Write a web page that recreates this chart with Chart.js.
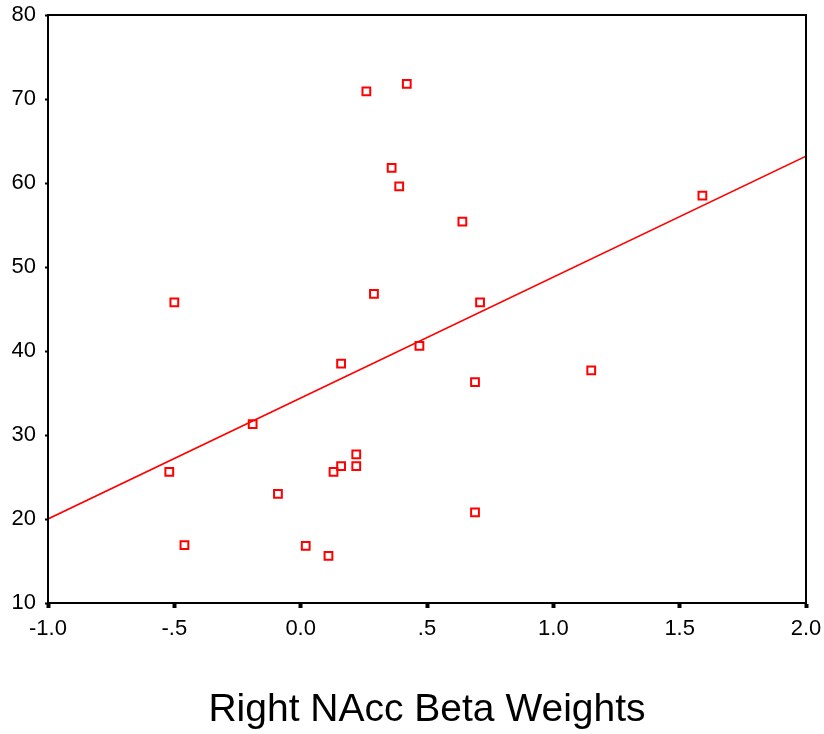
<!DOCTYPE html>
<html>
<head>
<meta charset="utf-8">
<script src="https://cdn.jsdelivr.net/npm/chart.js@4"></script>
<style>
  html, body { margin: 0; padding: 0; background: #fff; }
  #wrap { width: 824px; height: 734px; }
</style>
</head>
<body>
<div id="wrap"><canvas id="scatter" width="824" height="734"></canvas></div>
<script>
// values
const betaWeights = [-0.50, -0.52, -0.46, -0.19, -0.09, 0.02, 0.11, 0.13, 0.16, 0.22, 0.22, 0.16,
  0.29, 0.26, 0.42, 0.36, 0.39, 0.47, 0.64, 0.71, 0.69, 0.69, 1.15, 1.59];
const scores = [45.8, 25.6, 16.9, 31.3, 23.0, 16.8, 15.6, 25.6, 26.3, 26.3, 27.7, 38.5,
  46.8, 70.9, 71.8, 61.8, 59.6, 40.6, 55.4, 45.8, 36.3, 20.8, 37.7, 58.5];
const fitX = [-1.0, 2.0];
const fitY = [20.0, 63.2];
const xTicks = [-1.0, -0.5, 0.0, 0.5, 1.0, 1.5, 2.0];
const xTickLabels = ['-1.0', '-.5', '0.0', '.5', '1.0', '1.5', '2.0'];
const yTicks = [10, 20, 30, 40, 50, 60, 70, 80];

const FONT = "'Liberation Sans', Arial, sans-serif";

// box round the plot area (top and right sides)
const frame = {
  id: 'frame',
  afterDraw(chart) {
    const a = chart.chartArea;
    const c = chart.ctx;
    c.save();
    c.strokeStyle = '#000';
    c.lineWidth = 2;
    c.strokeRect(a.left, a.top, a.right - a.left, a.bottom - a.top);
    c.restore();
  }
};

const ctx = document.getElementById('scatter').getContext('2d');
new Chart(ctx, {
  type: 'scatter',
  data: {
    datasets: [
      {
        label: 'Scores',
        data: betaWeights.map((x, i) => ({ x: x, y: scores[i] })),
        pointStyle: 'rect',
        pointRadius: 5.5,
        pointBorderWidth: 2,
        borderColor: '#ff0000',
        backgroundColor: 'rgba(0,0,0,0)'
      },
      {
        label: 'Fit',
        type: 'line',
        data: fitX.map((x, i) => ({ x: x, y: fitY[i] })),
        borderColor: '#ff0000',
        borderWidth: 1.6,
        pointRadius: 0,
        fill: false
      }
    ]
  },
  options: {
    responsive: false,
    animation: false,
    layout: { padding: { top: 15, right: 18, left: 0, bottom: 0 } },
    plugins: { legend: { display: false }, tooltip: { enabled: false } },
    scales: {
      x: {
        type: 'linear',
        min: -1,
        max: 2,
        afterBuildTicks: s => { s.ticks = xTicks.map(v => ({ value: v })); },
        afterFit: s => { s.height = 131; s.paddingLeft = 0; s.paddingRight = 0; },
        ticks: {
          color: '#000',
          font: { family: FONT, size: 22 },
          padding: 8,
          maxRotation: 0,
          callback: (v, i) => xTickLabels[i]
        },
        grid: { drawOnChartArea: false, tickLength: 5, tickWidth: 4, tickColor: '#000' },
        border: { display: true, color: '#000', width: 2 },
        title: {
          display: true,
          text: 'Right NAcc Beta Weights',
          color: '#000',
          font: { family: FONT, size: 39 },
          padding: { top: 0, bottom: 0 }
        }
      },
      y: {
        min: 10,
        max: 80,
        afterBuildTicks: s => { s.ticks = yTicks.map(v => ({ value: v })); },
        afterFit: s => { s.width = 48; s.paddingTop = 0; s.paddingBottom = 0; },
        ticks: {
          color: '#000',
          font: { family: FONT, size: 22 },
          padding: 9
        },
        grid: { drawOnChartArea: false, tickLength: 3, tickWidth: 2, tickColor: '#000' },
        border: { display: true, color: '#000', width: 2 }
      }
    }
  },
  plugins: [frame]
});
</script>
</body>
</html>
